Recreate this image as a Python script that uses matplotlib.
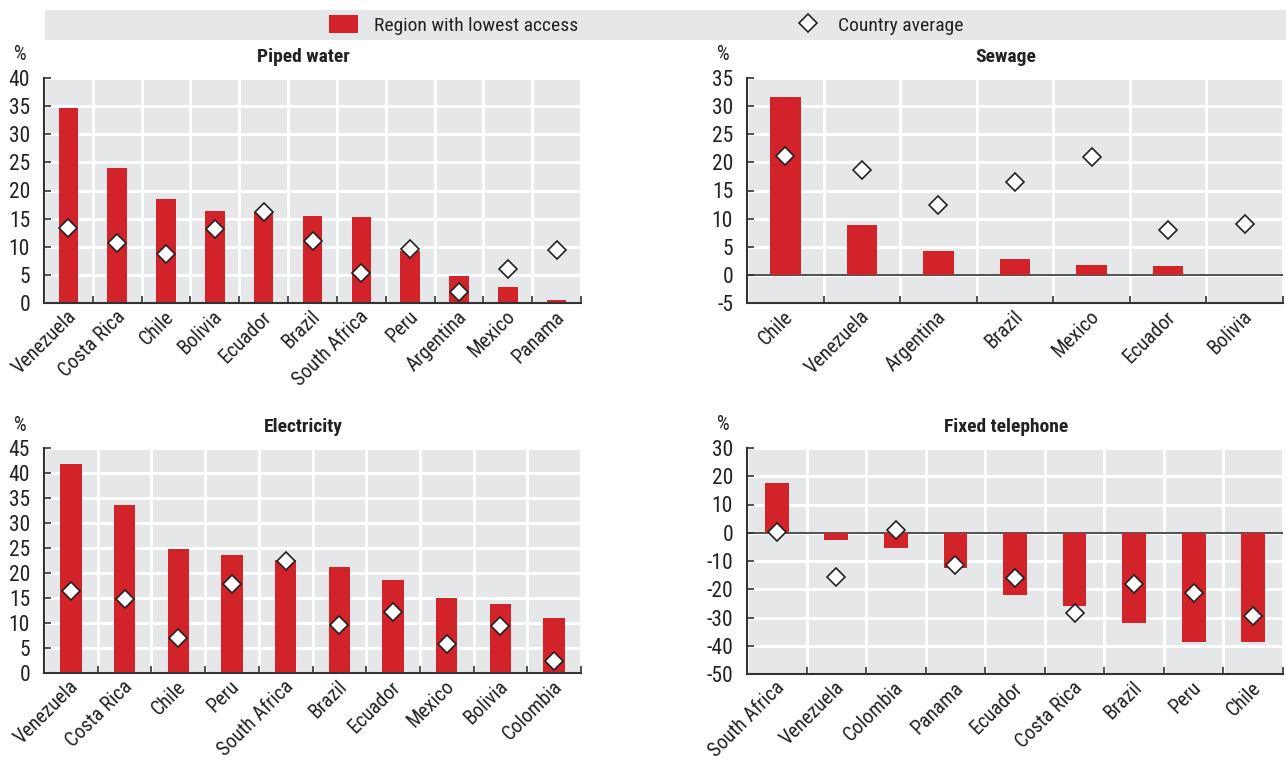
import numpy as np
import matplotlib
matplotlib.use("Agg")
import matplotlib.pyplot as plt
from matplotlib import font_manager
from matplotlib.lines import Line2D
from matplotlib.patches import Patch, Rectangle
from matplotlib.transforms import ScaledTranslation

names = {f.name for f in font_manager.fontManager.ttflist}
if "Roboto Condensed" in names:
    plt.rcParams["font.family"] = ["Roboto Condensed", "DejaVu Sans"]
elif "Liberation Sans Narrow" in names:
    plt.rcParams["font.family"] = ["Liberation Sans Narrow", "DejaVu Sans"]
else:
    plt.rcParams["font.family"] = ["DejaVu Sans"]
    plt.rcParams["font.stretch"] = "condensed"
plt.rcParams["axes.unicode_minus"] = False

# Piped water
water_countries = ["Venezuela", "Costa Rica", "Chile", "Bolivia", "Ecuador", "Brazil",
                   "South Africa", "Peru", "Argentina", "Mexico", "Panama"]
water_lowest = [34.6, 24.0, 18.5, 16.4, 16.2, 15.5, 15.3, 9.2, 4.8, 2.9, 0.6]
water_avg = [13.4, 10.6, 8.7, 13.1, 16.1, 11.0, 5.4, 9.6, 1.9, 6.1, 9.4]

# Sewage
sewage_countries = ["Chile", "Venezuela", "Argentina", "Brazil", "Mexico", "Ecuador", "Bolivia"]
sewage_lowest = [31.7, 8.8, 4.3, 2.9, 1.7, 1.5, np.nan]
sewage_avg = [21.1, 18.6, 12.4, 16.6, 21.0, 7.9, 9.0]

# Electricity
elec_countries = ["Venezuela", "Costa Rica", "Chile", "Peru", "South Africa", "Brazil",
                  "Ecuador", "Mexico", "Bolivia", "Colombia"]
elec_lowest = [41.9, 33.6, 24.8, 23.7, 22.7, 21.3, 18.7, 15.1, 13.9, 11.1]
elec_avg = [16.5, 14.8, 7.0, 17.8, 22.5, 9.7, 12.3, 5.8, 9.5, 2.5]

# Fixed telephone
phone_countries = ["South Africa", "Venezuela", "Colombia", "Panama", "Ecuador",
                   "Costa Rica", "Brazil", "Peru", "Chile"]
phone_lowest = [17.5, -2.5, -5.3, -12.4, -22.2, -26.1, -31.8, -38.5, -38.8]
phone_avg = [0.1, -15.5, 1.0, -11.4, -15.9, -28.5, -18.0, -21.5, -29.3]

panels = [
    ("Piped water", water_countries, water_lowest, water_avg, (0, 40), 5),
    ("Sewage", sewage_countries, sewage_lowest, sewage_avg, (-5, 35), 5),
    ("Electricity", elec_countries, elec_lowest, elec_avg, (0, 45), 5),
    ("Fixed telephone", phone_countries, phone_lowest, phone_avg, (-50, 30), 10),
]

RED = "#d2232a"
BG = "#e6e7e8"
DARK = "#333333"
TXT = "#222222"

W, H = 1286, 761
fig = plt.figure(figsize=(W / 100, H / 100), dpi=100)

boxes = [(44, 78, 581, 303), (747, 78, 1283, 303), (44, 448, 581, 673), (747, 448, 1283, 674)]

for (title, cats, lowest, avg, ylim, step), (x0, y0, x1, y1) in zip(panels, boxes):
    ax = fig.add_axes([x0 / W, 1 - y1 / H, (x1 - x0) / W, (y1 - y0) / H])
    ax.set_facecolor(BG)
    n = len(cats)
    x = np.arange(n)
    ax.set_xlim(-0.5, n - 0.5)
    ax.set_ylim(*ylim)
    ax.set_yticks(np.arange(ylim[0], ylim[1] + 0.1, step))
    ax.set_xticks(x)
    ax.set_xticks(np.arange(n + 1) - 0.5, minor=True)
    ax.grid(axis="y", which="major", color="white", lw=2.2, zorder=0)
    ax.grid(axis="x", which="minor", color="white", lw=2.2, zorder=0)
    ax.set_axisbelow(True)
    if ylim[0] < 0:
        ax.axhline(0, color=DARK, lw=1.2, zorder=1)
    ax.bar(x, lowest, width=0.4, color=RED, zorder=2)
    ax.plot(x, avg, ls="none", marker="D", ms=9.5, mfc="white", mec=TXT,
            mew=1.2, zorder=3)
    for side in ("top", "right"):
        ax.spines[side].set_visible(False)
    for side in ("left", "bottom"):
        ax.spines[side].set_color(DARK)
        ax.spines[side].set_linewidth(1.5)
    ax.tick_params(axis="y", direction="in", length=5, width=1.2, color=DARK,
                   labelsize=15.5, pad=10, labelcolor=TXT)
    ax.tick_params(axis="x", which="major", length=0, pad=3, labelsize=14.5,
                   labelcolor=TXT)
    ax.tick_params(axis="x", which="minor", direction="in", length=5, width=1.2,
                   color=DARK)
    ax.set_xticklabels(cats, rotation=45, ha="right", rotation_mode="anchor")
    for lbl in ax.get_xticklabels():
        lbl.set_transform(lbl.get_transform() +
                          ScaledTranslation(-2 / 100, 0, fig.dpi_scale_trans))
    ax.text(0.5 - 9 / (x1 - x0), 1.0 + 21 / (y1 - y0), title, transform=ax.transAxes,
            fontsize=14, fontweight="bold", color=TXT, ha="center", va="center")
    ax.text(-0.045, 1.06, "%", transform=ax.transAxes, fontsize=14.5,
            ha="center", va="bottom", color=TXT)

# Legend band across the top
fig.patches.append(Rectangle((45 / W, 1 - 40 / H), 1 - 45 / W, 30 / H,
                             transform=fig.transFigure, facecolor=BG, edgecolor="none",
                             zorder=0))
handles = [
    Patch(facecolor=RED, edgecolor="none", label="Region with lowest access"),
    Line2D([], [], ls="none", marker="D", ms=9, mfc="white", mec=TXT, mew=1.2,
           label="Country average"),
]
fig.legend(handles=handles, loc="center", bbox_to_anchor=(0.5027, 1 - 25 / H), ncol=2,
           frameon=False, fontsize=14, columnspacing=11.1, handlelength=1.5,
           handletextpad=0.8, handleheight=1.0, labelcolor=TXT)

fig.savefig("out.png", dpi=100, facecolor="white")
